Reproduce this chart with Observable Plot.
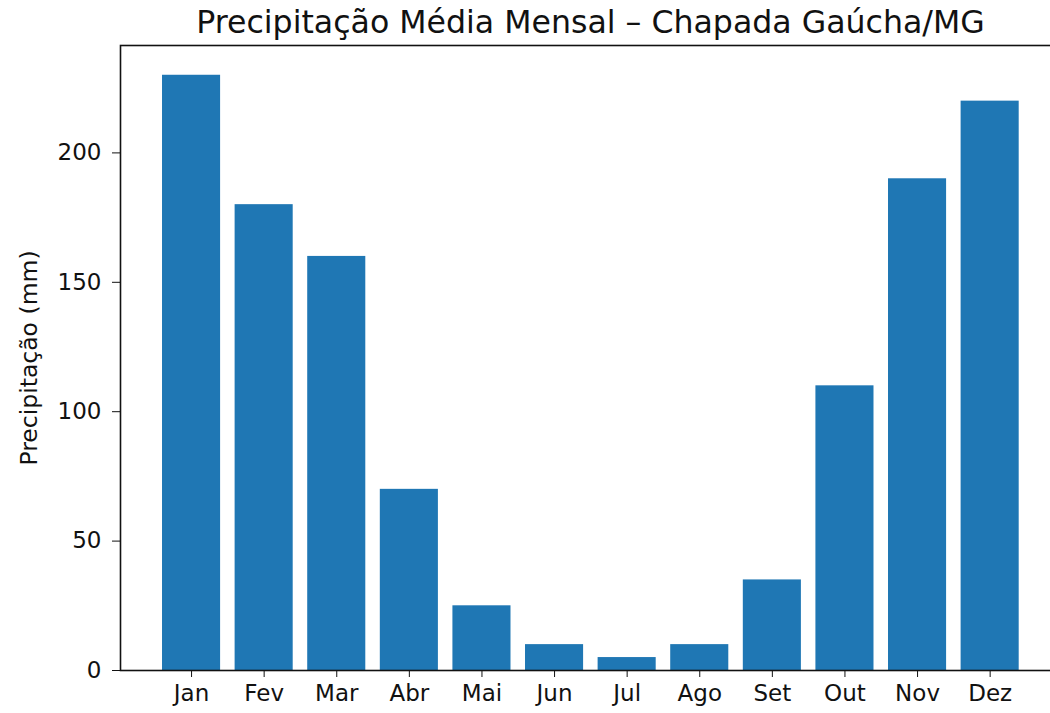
<!DOCTYPE html>
<html>
<head>
<meta charset="utf-8">
<script src="https://cdn.jsdelivr.net/npm/d3@7"></script>
<script src="https://cdn.jsdelivr.net/npm/@observablehq/plot@0.6"></script>
<style>
  html, body { margin: 0; padding: 0; background: #fff; }
  #wrap { width: 1050px; height: 713px; overflow: hidden; position: relative; background: #fff; }
  #title { position: absolute; left: 0; top: 0; width: 1181px; height: 40px; line-height: 44px; text-align: center;
           font-family: "DejaVu Sans", sans-serif; font-size: 31.6px; color: #111; white-space: nowrap; }
  #chart { position: absolute; left: 0; top: 40px; width: 1050px; }
  #chart svg { overflow: hidden; }
</style>
</head>
<body>
<div id="wrap">
  <div id="title">Precipitação Média Mensal – Chapada Gaúcha/MG</div>
  <div id="chart"></div>
</div>
<script>
const months = ["Jan", "Fev", "Mar", "Abr", "Mai", "Jun", "Jul", "Ago", "Set", "Out", "Nov", "Dez"];
const precip = [230, 180, 160, 70, 25, 10, 5, 10, 35, 110, 190, 220];
const yTicks = [0, 50, 100, 150, 200];

const data = months.map((m, i) => ({month: m, value: precip[i]}));

const chart = Plot.plot({
  width: 1050,
  height: 673,
  marginLeft: 120,
  marginRight: 0,
  marginTop: 5,
  marginBottom: 43,
  style: {fontFamily: "DejaVu Sans, sans-serif", color: "#111", background: "#fff", overflow: "hidden"},
  x: {domain: months, paddingInner: 0.2, paddingOuter: 0.505, align: 0.573, round: false},
  y: {domain: [0, 241.5]},
  marks: [
    Plot.barY(data, {x: "month", y: "value", fill: "#1f77b4"}),
    Plot.axisX({tickSize: 7, tickPadding: 7, fontSize: 23, label: null, stroke: "#111"}),
    Plot.axisY({ticks: yTicks, tickSize: 8, tickPadding: 11, fontSize: 23, stroke: "#111",
                label: "Precipitação (mm)", labelAnchor: "center", labelArrow: "none", labelOffset: 100}),
    Plot.frame({stroke: "#111", strokeWidth: 1.6, insetRight: -12})
  ]
});
chart.querySelectorAll("g[aria-label='y-axis label'] text").forEach(t => t.setAttribute("font-size", "23.5px"));
document.getElementById("chart").appendChild(chart);
</script>
</body>
</html>
